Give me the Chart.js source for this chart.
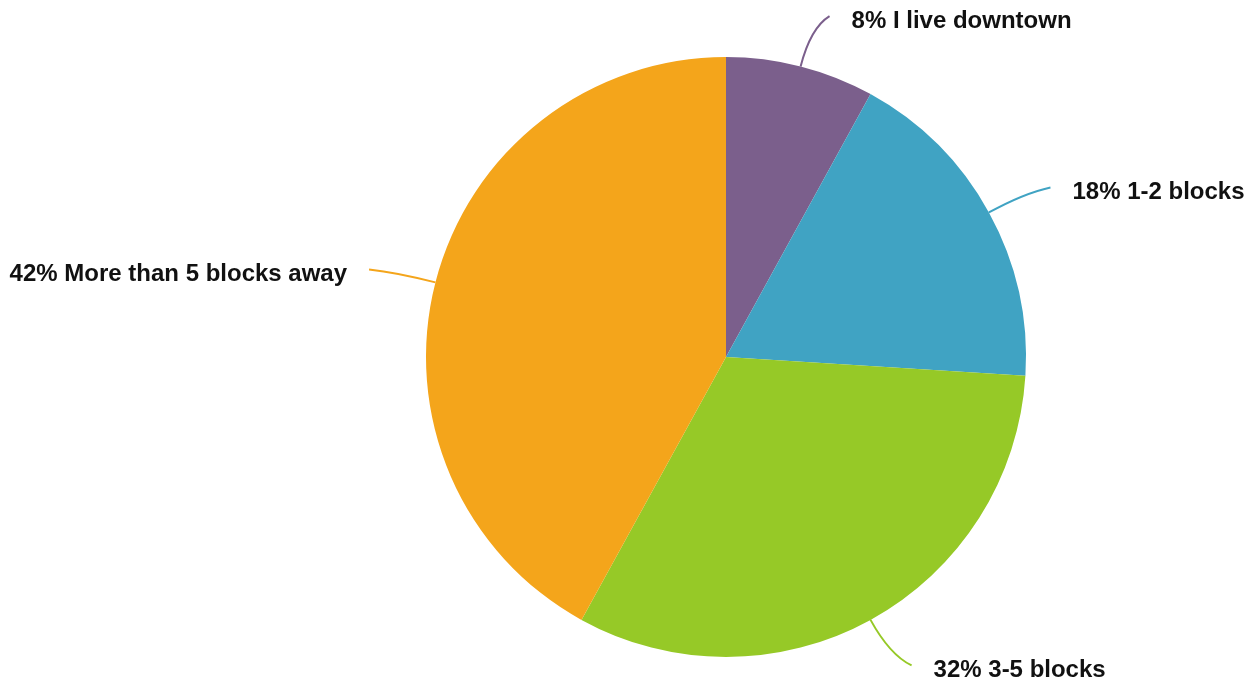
<!DOCTYPE html>
<html>
<head>
<meta charset="utf-8">
<script src="https://cdn.jsdelivr.net/npm/chart.js@4/dist/chart.umd.min.js"></script>
<style>
  html, body { margin: 0; padding: 0; background: #fff; }
  #wrap { width: 1254px; height: 688px; }
</style>
</head>
<body>
<div id="wrap"><canvas id="chart" width="1254" height="688"></canvas></div>
<script>
const categories = ['I live downtown', '1-2 blocks', '3-5 blocks', 'More than 5 blocks away']
const shares = [8, 18, 32, 42]
const colors = ['#7b5f8c', '#40a3c3', '#96c927', '#f4a51b']

// leader lines + labels drawn off each arc
const pieLabels = {
  id: 'pieLabels',
  afterDraw(chart) {
    const ctx = chart.ctx
    const meta = chart.getDatasetMeta(0)
    ctx.save()
    ctx.font = 'bold 24px "Liberation Sans", Arial, sans-serif'
    ctx.textBaseline = 'middle'
    meta.data.forEach((arc, i) => {
      const mid = (arc.startAngle + arc.endAngle) / 2
      const cx = Math.cos(mid), cy = Math.sin(mid)
      const r = arc.outerRadius
      const side = cx >= 0 ? 1 : -1
      const sx = arc.x + cx * r, sy = arc.y + cy * r
      const qx = arc.x + cx * (r + 40), qy = arc.y + cy * (r + 40)
      const ex = arc.x + cx * (r + 52) + side * 16, ey = arc.y + cy * (r + 52)
      ctx.strokeStyle = colors[i]
      ctx.lineWidth = 2
      ctx.beginPath()
      ctx.moveTo(sx, sy)
      ctx.quadraticCurveTo(qx, qy, ex, ey)
      ctx.stroke()
      ctx.fillStyle = '#111'
      ctx.textAlign = side > 0 ? 'left' : 'right'
      ctx.fillText(shares[i] + '% ' + categories[i], ex + side * 22, ey + 5)
    })
    ctx.restore()
  }
}

new Chart(document.getElementById('chart'), {
  type: 'pie',
  data: {
    labels: categories,
    datasets: [{
      data: shares,
      backgroundColor: colors,
      borderWidth: 0
    }]
  },
  options: {
    responsive: false,
    animation: false,
    layout: { padding: { top: 57, bottom: 31, left: 426, right: 228 } },
    plugins: {
      legend: { display: false },
      tooltip: { enabled: false }
    }
  },
  plugins: [pieLabels]
})
</script>
</body>
</html>
